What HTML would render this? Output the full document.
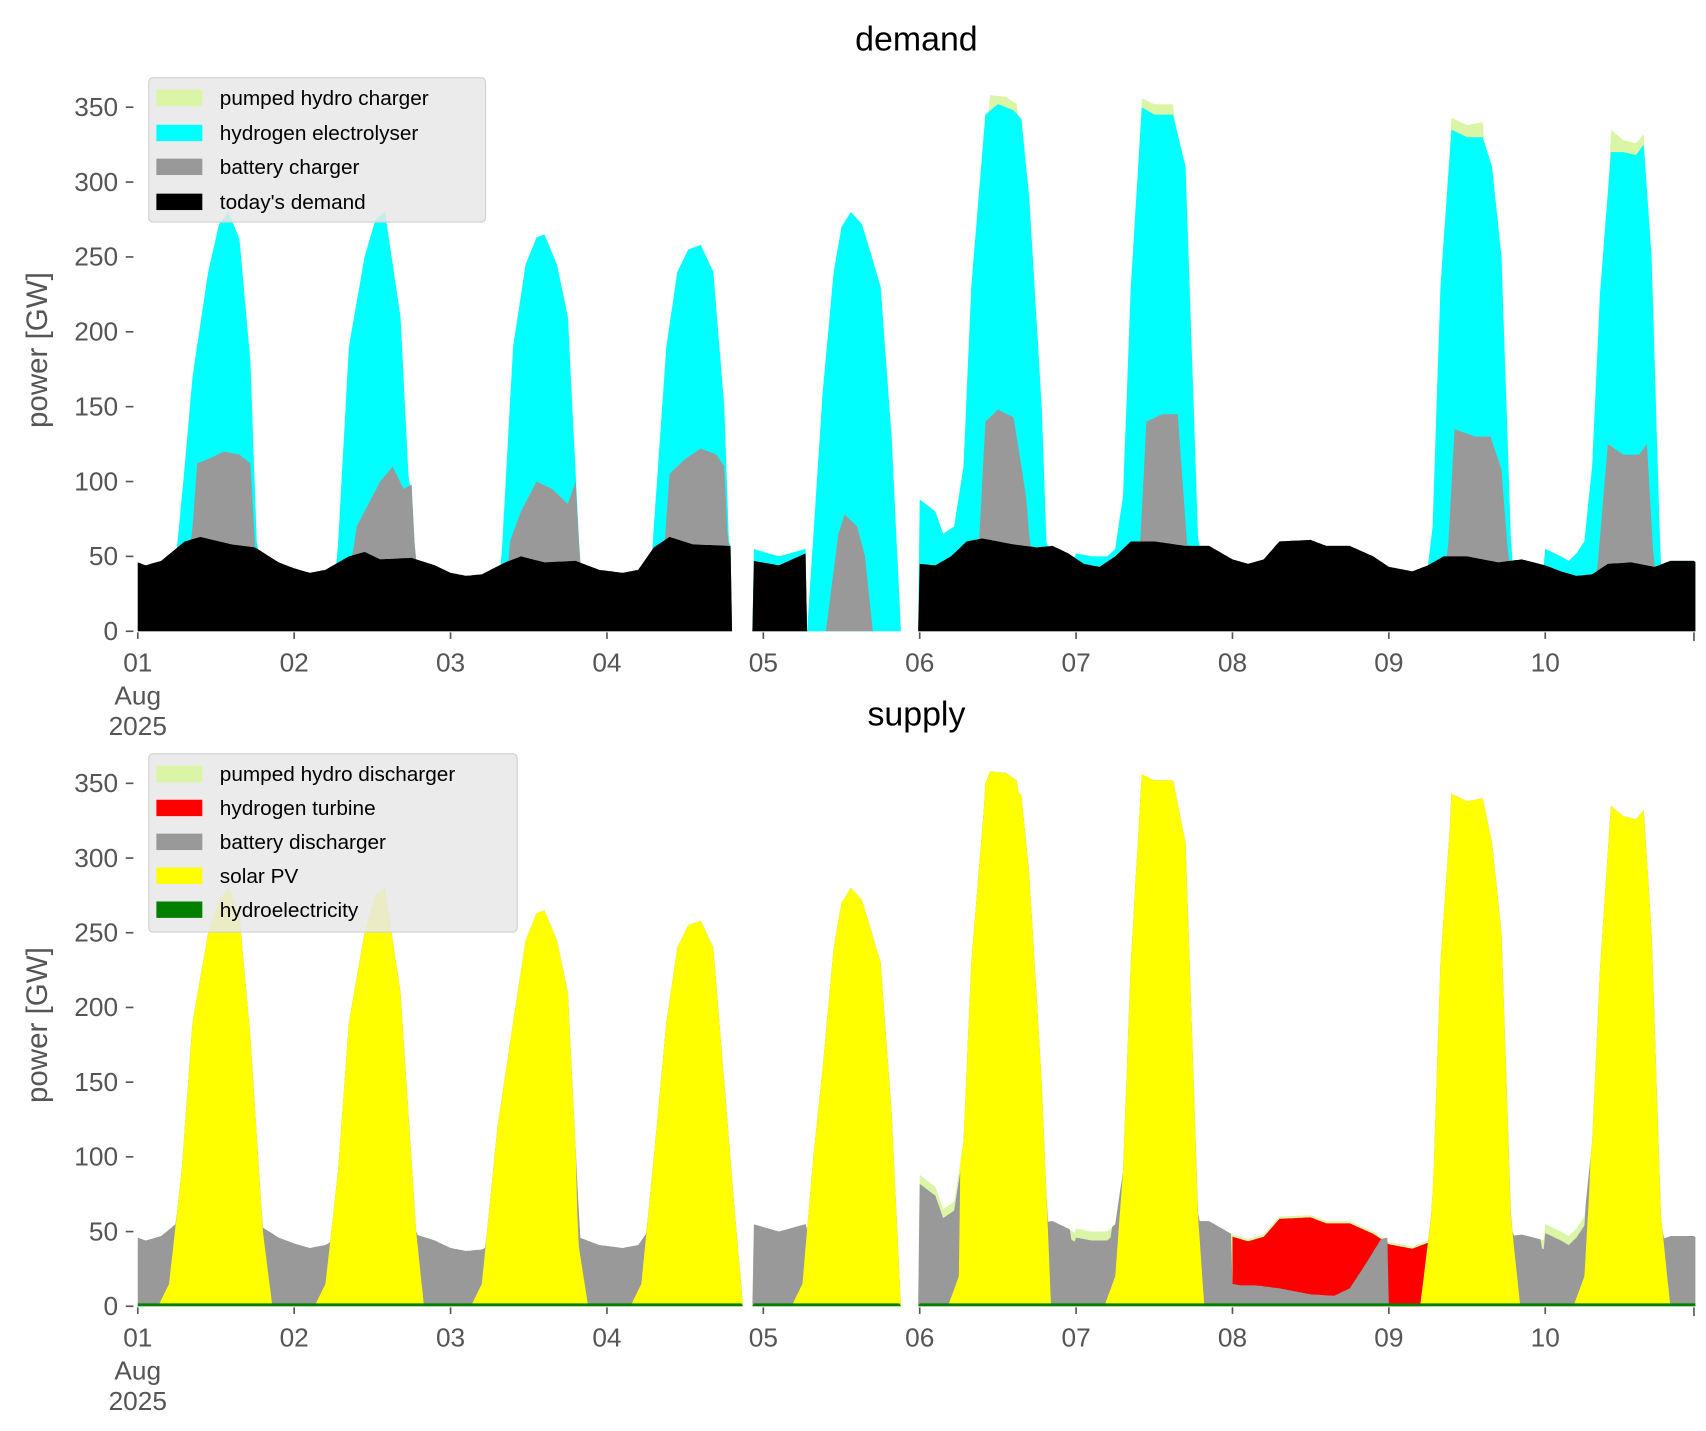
<!DOCTYPE html>
<html><head><meta charset="utf-8"><style>
html,body{margin:0;padding:0;background:#fff;}
svg{display:block;font-family:"Liberation Sans","DejaVu Sans",sans-serif;}
</style></head><body>
<svg id="s" width="1706" height="1431" viewBox="0 0 1560 1308" preserveAspectRatio="none" xmlns="http://www.w3.org/2000/svg">
<g id="plots"></g>
<g fill="#555" font-size="24">
<text x="838" y="46" font-size="31" fill="#000" text-anchor="middle">demand</text>
<text x="838" y="663" font-size="31" fill="#000" text-anchor="middle">supply</text>
<text transform="translate(43,320) rotate(-90)" font-size="27" text-anchor="middle">power [GW]</text>
<text transform="translate(43,937) rotate(-90)" font-size="27" text-anchor="middle">power [GW]</text>
</g>
<g id="ticks" fill="#555" font-size="24"></g>
<g font-size="19" fill="#000">
<rect x="136" y="71" width="308" height="132" rx="4" fill="#e8e8e8" fill-opacity="0.85" stroke="#d0d0d0"/>
<rect x="143" y="82" width="42" height="15" fill="#dbf5a6"/><text x="201" y="96">pumped hydro charger</text>
<rect x="143" y="114" width="42" height="15" fill="#00ffff"/><text x="201" y="128">hydrogen electrolyser</text>
<rect x="143" y="145" width="42" height="15" fill="#999"/><text x="201" y="159">battery charger</text>
<rect x="143" y="177" width="42" height="15" fill="#000"/><text x="201" y="191">today's demand</text>
<rect x="136" y="689" width="337" height="163" rx="4" fill="#e8e8e8" fill-opacity="0.85" stroke="#d0d0d0"/>
<rect x="143" y="700" width="42" height="15" fill="#dbf5a6"/><text x="201" y="714">pumped hydro discharger</text>
<rect x="143" y="731" width="42" height="15" fill="#ff0000"/><text x="201" y="745">hydrogen turbine</text>
<rect x="143" y="762" width="42" height="15" fill="#999"/><text x="201" y="776">battery discharger</text>
<rect x="143" y="793" width="42" height="15" fill="#ffff00"/><text x="201" y="807">solar PV</text>
<rect x="143" y="824" width="42" height="15" fill="#008000"/><text x="201" y="838">hydroelectricity</text>
</g>
</svg>
<script>
(function(){
function interp(l,t){ if(t<l[0][0]||t>l[l.length-1][0]) return null;
 for(var i=1;i<l.length;i++){ if(t<=l[i][0]){var a=l[i-1],b=l[i];var f=(b[0]==a[0])?1:(t-a[0])/(b[0]-a[0]);return a[1]+f*(b[1]-a[1]);}} return l[l.length-1][1];}
function multi(ls,t){var m=null;for(var i=0;i<ls.length;i++){var v=interp(ls[i],t);if(v!==null)m=(m===null?v:Math.max(m,v));}return m;}
var base=[[0,46],[.05,44],[.15,47],[.3,60],[.4,63],[.6,58],[.75,56],[.9,46],[1,42],[1.1,39],[1.2,41],[1.35,50],[1.45,53],[1.55,48],[1.75,49],[1.9,44],[2,39],[2.1,37],[2.2,38],[2.35,46],[2.45,50],[2.6,46],[2.8,47],[2.95,41],[3.1,39],[3.2,41],[3.3,56],[3.4,63],[3.55,58],[3.79,57],[3.8,0],[3.93,0],[3.935,47],[4.1,44],[4.27,52],[4.28,0],[4.99,0],[5,45],[5.1,44],[5.2,50],[5.3,60],[5.4,62],[5.6,58],[5.75,56],[5.85,57],[5.95,52],[6.05,45],[6.15,43],[6.25,50],[6.35,60],[6.5,60],[6.7,57],[6.85,57],[7,48],[7.1,45],[7.2,48],[7.3,60],[7.5,61],[7.6,57],[7.75,57],[7.9,50],[8,43],[8.15,40],[8.25,44],[8.35,50],[8.5,50],[8.7,46],[8.85,48],[9,44],[9.1,40],[9.2,37],[9.3,38],[9.4,45],[9.55,46],[9.7,43],[9.8,47],[9.95,47],[9.99,44]];
var bat=[[[.3,0],[.38,112],[.45,115],[.55,120],[.65,118],[.72,112],[.78,0]],
[[1.3,0],[1.4,70],[1.55,100],[1.63,110],[1.7,95],[1.75,98],[1.8,0]],
[[2.35,0],[2.38,60],[2.45,80],[2.55,100],[2.65,95],[2.75,85],[2.8,100],[2.85,0]],
[[3.33,0],[3.4,105],[3.5,115],[3.6,122],[3.7,118],[3.75,110],[3.8,0]],
[[4.4,0],[4.48,65],[4.52,78],[4.6,70],[4.65,50],[4.7,0]],
[[5.35,0],[5.42,140],[5.5,148],[5.6,143],[5.68,90],[5.75,0]],
[[6.38,0],[6.45,140],[6.55,145],[6.65,145],[6.75,0]],
[[8.35,0],[8.42,135],[8.55,130],[8.65,130],[8.72,108],[8.8,0]],
[[9.3,0],[9.4,125],[9.5,118],[9.6,118],[9.65,125],[9.72,0]]];
var cy=[[[.2,0],[.3,110],[.35,170],[.45,240],[.52,272],[.58,280],[.65,262],[.72,180],[.78,0]],
[[1.25,0],[1.35,190],[1.45,250],[1.52,275],[1.58,280],[1.68,210],[1.78,0]],
[[2.3,0],[2.4,190],[2.48,245],[2.55,263],[2.6,265],[2.68,245],[2.75,210],[2.85,0]],
[[3.28,0],[3.3,70],[3.38,190],[3.45,240],[3.52,255],[3.6,258],[3.68,240],[3.75,150],[3.8,0]],
[[3.935,55],[4.1,50],[4.27,55],[4.28,0],[4.38,160],[4.45,240],[4.5,270],[4.56,280],[4.63,272],[4.68,255],[4.75,230],[4.82,130],[4.88,0]],
[[5,88],[5.1,80],[5.15,65],[5.22,70],[5.28,110],[5.33,230],[5.42,345],[5.5,352],[5.6,348],[5.65,342],[5.7,290],[5.78,150],[5.83,0]],
[[5.97,0],[6,52],[6.1,50],[6.2,50],[6.25,55],[6.3,90],[6.35,230],[6.42,350],[6.5,345],[6.62,345],[6.7,310],[6.8,0]],
[[8.2,0],[8.28,70],[8.33,230],[8.4,335],[8.5,330],[8.6,330],[8.66,310],[8.72,250],[8.8,0]],
[[8.97,0],[9,55],[9.1,50],[9.15,47],[9.2,52],[9.25,60],[9.3,110],[9.35,225],[9.42,320],[9.5,320],[9.58,318],[9.63,325],[9.68,250],[9.75,0]]];
var ph=[[[5.42,0],[5.45,358],[5.55,357],[5.62,352],[5.65,0]],[[6.4,0],[6.42,356],[6.5,352],[6.62,352],[6.65,0]],[[8.38,0],[8.4,343],[8.5,338],[8.6,340],[8.63,0]],[[9.4,0],[9.42,335],[9.5,328],[9.58,326],[9.63,332],[9.65,0]]];
var sol=[[[.13,0],[.2,15],[.28,90],[.35,190],[.45,250],[.52,272],[.58,280],[.65,262],[.72,180],[.8,50],[.86,0]],
[[1.13,0],[1.2,15],[1.28,90],[1.35,190],[1.45,250],[1.52,275],[1.58,280],[1.68,210],[1.78,50],[1.83,0]],
[[2.13,0],[2.2,15],[2.3,120],[2.4,190],[2.48,245],[2.55,263],[2.6,265],[2.68,245],[2.75,210],[2.82,40],[2.88,0]],
[[3.15,0],[3.22,15],[3.3,100],[3.38,190],[3.45,240],[3.52,255],[3.6,258],[3.68,240],[3.75,150],[3.82,60],[3.87,0]],
[[4.18,0],[4.25,15],[4.32,100],[4.38,160],[4.45,240],[4.5,270],[4.56,280],[4.63,272],[4.68,255],[4.75,230],[4.82,130],[4.88,0]],
[[5.18,0],[5.25,20],[5.3,110],[5.36,230],[5.42,350],[5.45,358],[5.55,357],[5.62,352],[5.7,290],[5.78,150],[5.84,0]],
[[6.18,0],[6.25,20],[6.3,90],[6.35,230],[6.42,356],[6.5,352],[6.62,352],[6.7,310],[6.78,60],[6.82,0]],
[[8.2,0],[8.27,60],[8.3,110],[8.35,230],[8.4,343],[8.5,338],[8.6,340],[8.66,310],[8.72,250],[8.78,60],[8.84,0]],
[[9.18,0],[9.25,20],[9.3,110],[9.35,225],[9.42,335],[9.5,328],[9.58,326],[9.63,332],[9.68,250],[9.74,60],[9.8,0]]];
var gr=[[7,15],[7.05,14],[7.15,14],[7.3,12],[7.5,8],[7.65,7],[7.75,12],[7.85,28],[7.95,45],[7.99,46],[8.0,0],[8.28,0]];
var N=996,T=[],B=[],Bt=[],C=[],P=[];
for(var i=0;i<=N;i++){var t=i/100;T.push(t);var b=interp(base,t);B.push(b);
 var bt=multi(bat,t);bt=bt===null?b:Math.max(b,bt);Bt.push(bt);
 var c=multi(cy,t);c=c===null?bt:Math.max(bt,c);if(b==0&&c<bt)c=bt;C.push(c);
 var p=multi(ph,t);p=p===null?c:Math.max(c,p);P.push(p);}
function X(t){return 126+t*143;}
function Yd(v){return 577-v*1.3686;} function Ys(v){return 1194-v*1.3657;}
function area(arr,Y,col,t0,t1){var d='',ts=[];for(var i=0;i<=N;i++){var t=T[i];if(t0!==undefined&&(t<t0-1e-9||t>t1+1e-9))continue;ts.push(i);}
 if(!ts.length)return '';d='M'+X(T[ts[0]]).toFixed(1)+','+Y(0);
 ts.forEach(function(i){d+='L'+X(T[i]).toFixed(1)+','+Y(arr[i]).toFixed(1);});
 d+='L'+X(T[ts[ts.length-1]]).toFixed(1)+','+Y(0)+'Z';return '<path d="'+d+'" fill="'+col+'"/>';}
var h='';
h+=area(P,Yd,'#dbf5a6');h+=area(C,Yd,'#00ffff');h+=area(Bt,Yd,'#999999');h+=area(B,Yd,'#000000');
var S=[],top=[],G=[],Hy=[],Rd=[];
for(var i=0;i<=N;i++){var t=T[i];var s=multi(sol,t);s=s===null?0:s;
 if(P[i]>95) s=Math.max(s,P[i]);
 S.push(s);var tp=Math.max(P[i],s);top.push(tp);
 var pp=((t>=5&&t<=5.27)||(t>=5.97&&t<=6.22)||(t>=8.98&&t<=9.25))?6:0;
 var g=tp-pp; if(t>=7&&t<=8.28){g=interp(gr,t);} G.push(Math.max(0,g));Hy.push(tp>0?2:0);Rd.push(tp-1.5);}
h+=area(top,Ys,'#dbf5a6');h+=area(Rd,Ys,'#ff0000',7,8.28);h+=area(G,Ys,'#999999');h+=area(S,Ys,'#ffff00');h+=area(Hy,Ys,'#008000');
document.getElementById('plots').innerHTML=h;
var k='';
[[577,1.3686],[1194,1.3657]].forEach(function(a,j){
 for(var v=0;v<=350;v+=50){var y=a[0]-v*a[1];k+='<line x1="115" x2="122" y1="'+y+'" y2="'+y+'" stroke="#555" stroke-width="1.5"/><text x="108" y="'+(y+8)+'" text-anchor="end">'+v+'</text>';}
 var yb=a[0];
 for(var d=0;d<10;d++){var x=X(d);k+='<line x1="'+x+'" x2="'+x+'" y1="'+(yb+1)+'" y2="'+(yb+7)+'" stroke="#555" stroke-width="1.5"/><text x="'+x+'" y="'+(yb+37)+'" text-anchor="middle">'+(d<9?'0'+(d+1):'10')+'</text>';}
 k+='<line x1="1549" x2="1549" y1="'+(yb+1)+'" y2="'+(yb+9)+'" stroke="#555" stroke-width="1.5"/>';
 k+='<text x="126" y="'+(yb+67)+'" text-anchor="middle">Aug</text><text x="126" y="'+(yb+95)+'" text-anchor="middle">2025</text>';
});
document.getElementById('ticks').innerHTML=k;
})();
</script>
</body></html>
